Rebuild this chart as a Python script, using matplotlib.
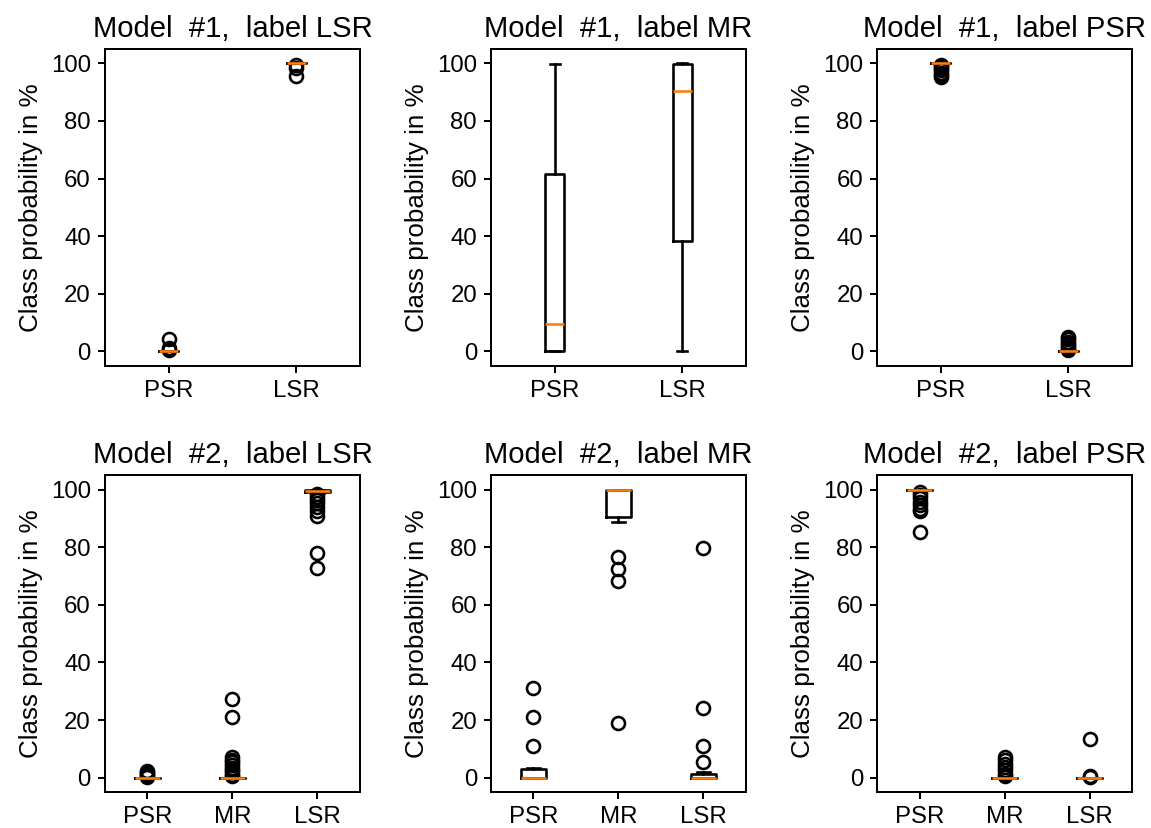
import matplotlib
matplotlib.use("Agg")
import matplotlib.pyplot as plt

plt.rcParams['font.family'] = ['Liberation Sans', 'DejaVu Sans']
plt.rcParams['font.size'] = 12
plt.rcParams['axes.linewidth'] = 1.0
plt.rcParams['xtick.major.width'] = 1.0
plt.rcParams['ytick.major.width'] = 1.0

# ---- Model #1, label LSR ----
m1_lsr_labels = ["PSR", "LSR"]
m1_lsr_med = [0.0, 100.0]
m1_lsr_q1 = [0.0, 100.0]
m1_lsr_q3 = [0.0, 100.0]
m1_lsr_lo = [0.0, 100.0]
m1_lsr_hi = [0.0, 100.0]
m1_lsr_fliers = [[0.4, 1.2, 4.4], [95.6, 98.3, 99.3]]

# ---- Model #1, label MR ----
m1_mr_labels = ["PSR", "LSR"]
m1_mr_med = [9.4, 90.3]
m1_mr_q1 = [0.0, 38.2]
m1_mr_q3 = [61.7, 99.9]
m1_mr_lo = [0.0, 0.0]
m1_mr_hi = [99.8, 100.0]
m1_mr_fliers = [[], []]

# ---- Model #1, label PSR ----
m1_psr_labels = ["PSR", "LSR"]
m1_psr_med = [100.0, 0.0]
m1_psr_q1 = [100.0, 0.0]
m1_psr_q3 = [100.0, 0.0]
m1_psr_lo = [100.0, 0.0]
m1_psr_hi = [100.0, 0.0]
m1_psr_fliers = [[99.5, 99.0, 98.3, 97.6, 96.8, 96.0, 95.3],
                 [0.3, 1.0, 1.8, 2.5, 3.3, 4.1, 4.8]]

# ---- Model #2, label LSR ----
m2_lsr_labels = ["PSR", "MR", "LSR"]
m2_lsr_med = [0.0, 0.0, 99.6]
m2_lsr_q1 = [0.0, 0.0, 99.3]
m2_lsr_q3 = [0.0, 0.0, 99.9]
m2_lsr_lo = [0.0, 0.0, 99.0]
m2_lsr_hi = [0.0, 0.0, 100.0]
m2_lsr_fliers = [[0.3, 0.8, 1.4, 2.0, 2.3],
                 [0.5, 1.0, 1.8, 2.6, 3.5, 4.4, 5.3, 6.2, 7.2, 21.0, 27.2],
                 [98.5, 97.5, 96.5, 95.5, 94.0, 92.5, 91.0, 78.1, 72.7]]

# ---- Model #2, label MR ----
m2_mr_labels = ["PSR", "MR", "LSR"]
m2_mr_med = [0.0, 99.8, 0.0]
m2_mr_q1 = [0.0, 90.7, 0.0]
m2_mr_q3 = [3.1, 100.0, 1.4]
m2_mr_lo = [0.0, 88.8, 0.0]
m2_mr_hi = [3.3, 100.0, 2.0]
m2_mr_fliers = [[11.0, 21.2, 31.0],
                [76.8, 72.5, 68.2, 19.1],
                [79.7, 24.1, 11.0, 5.4]]

# ---- Model #2, label PSR ----
m2_psr_labels = ["PSR", "MR", "LSR"]
m2_psr_med = [100.0, 0.0, 0.0]
m2_psr_q1 = [100.0, 0.0, 0.0]
m2_psr_q3 = [100.0, 0.0, 0.0]
m2_psr_lo = [100.0, 0.0, 0.0]
m2_psr_hi = [100.0, 0.0, 0.0]
m2_psr_fliers = [[99.3, 98.2, 97.0, 95.8, 94.6, 93.5, 92.5, 85.5],
                 [0.5, 1.3, 2.5, 3.6, 4.8, 6.0, 7.2],
                 [0.2, 0.6, 13.4]]

panels = [
    ("Model  #1,  label LSR", m1_lsr_labels, m1_lsr_med, m1_lsr_q1, m1_lsr_q3, m1_lsr_lo, m1_lsr_hi, m1_lsr_fliers),
    ("Model  #1,  label MR", m1_mr_labels, m1_mr_med, m1_mr_q1, m1_mr_q3, m1_mr_lo, m1_mr_hi, m1_mr_fliers),
    ("Model  #1,  label PSR", m1_psr_labels, m1_psr_med, m1_psr_q1, m1_psr_q3, m1_psr_lo, m1_psr_hi, m1_psr_fliers),
    ("Model  #2,  label LSR", m2_lsr_labels, m2_lsr_med, m2_lsr_q1, m2_lsr_q3, m2_lsr_lo, m2_lsr_hi, m2_lsr_fliers),
    ("Model  #2,  label MR", m2_mr_labels, m2_mr_med, m2_mr_q1, m2_mr_q3, m2_mr_lo, m2_mr_hi, m2_mr_fliers),
    ("Model  #2,  label PSR", m2_psr_labels, m2_psr_med, m2_psr_q1, m2_psr_q3, m2_psr_lo, m2_psr_hi, m2_psr_fliers),
]

DPI = 144
fig, axes = plt.subplots(2, 3, figsize=(1151 / DPI, 828 / DPI), dpi=DPI)
fig.subplots_adjust(left=0.0912, right=0.9835, bottom=0.0435, top=0.9408,
                    wspace=0.514, hspace=0.347)

LW = 1.3
for ax, (title, labels, med, q1, q3, lo, hi, fl) in zip(axes.flat, panels):
    stats = []
    for i, lab in enumerate(labels):
        stats.append(dict(label=lab, med=med[i], q1=q1[i], q3=q3[i],
                          whislo=lo[i], whishi=hi[i], fliers=fl[i]))
    ax.bxp(stats, showfliers=True,
           boxprops=dict(linewidth=LW, color='black'),
           whiskerprops=dict(linewidth=LW, color='black'),
           capprops=dict(linewidth=LW, color='black'),
           medianprops=dict(linewidth=LW, color='#ff7f0e'),
           flierprops=dict(marker='o', markerfacecolor='none',
                           markeredgecolor='black', markersize=6.5,
                           markeredgewidth=LW))
    ax.set_title(title, fontsize=14.6)
    ax.set_ylabel("Class probability in %", fontsize=13)
    ax.set_yticks([0, 20, 40, 60, 80, 100])

fig.savefig("out.png", dpi=DPI)
